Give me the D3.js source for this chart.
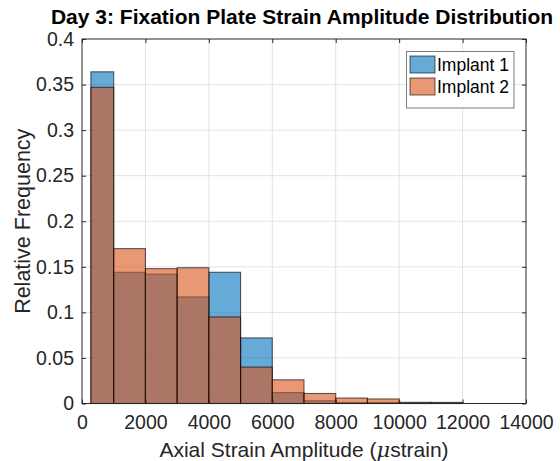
<!DOCTYPE html>
<html><head><meta charset="utf-8">
<script src="https://cdn.jsdelivr.net/npm/d3@7"></script>
<style>body{margin:0;background:#fff;} svg{display:block;font-family:"Liberation Sans",Arial,sans-serif;}</style>
</head><body>
<svg id="c" width="560" height="461"></svg>
<script>
const binEdges = [280, 1000, 2000, 3000, 4000, 5000, 6000, 7000, 8000, 9000, 10000, 11000, 12000];
const implant1 = [0.364, 0.144, 0.142, 0.117, 0.144, 0.072, 0.012, 0.003, 0.001, 0.001, 0.0005, 0.0005];
const implant2 = [0.347, 0.170, 0.148, 0.149, 0.095, 0.040, 0.026, 0.011, 0.006, 0.005, 0.0013, 0.0012];
const seriesNames = ["Implant 1", "Implant 2"];
const xTicks = [0, 2000, 4000, 6000, 8000, 10000, 12000, 14000];
const yTicks = [0, 0.05, 0.1, 0.15, 0.2, 0.25, 0.3, 0.35, 0.4];

const colors = ["rgb(0,114,189)", "rgb(217,83,25)"];
const svg = d3.select("#c");
const L = 82, R = 526, T = 39, B = 403.5;
const x = d3.scaleLinear().domain([0, 14000]).range([L, R]);
const y = d3.scaleLinear().domain([0, 0.4]).range([B, T]);
const ink = "#262626";

// grid
const g = svg.append("g");
g.selectAll(".gx").data(xTicks.slice(1, -1)).join("line")
  .attr("x1", d => x(d)).attr("x2", d => x(d)).attr("y1", T).attr("y2", B)
  .attr("stroke", "#e3e3e3").attr("stroke-width", 1);
g.selectAll(".gy").data(yTicks.slice(1, -1)).join("line")
  .attr("y1", d => y(d)).attr("y2", d => y(d)).attr("x1", L).attr("x2", R)
  .attr("stroke", "#e3e3e3").attr("stroke-width", 1);

// bars
[implant1, implant2].forEach((vals, si) => {
  svg.append("g").selectAll("rect").data(vals).join("rect")
    .attr("x", (d, i) => x(binEdges[i]))
    .attr("width", (d, i) => x(binEdges[i + 1]) - x(binEdges[i]))
    .attr("y", d => y(d))
    .attr("height", d => B - y(d))
    .attr("fill", colors[si]).attr("fill-opacity", 0.6)
    .attr("stroke", "#000").attr("stroke-opacity", 0.6).attr("stroke-width", 1.1);
});

// axes box
svg.append("rect").attr("x", L).attr("y", T).attr("width", R - L).attr("height", B - T)
  .attr("fill", "none").attr("stroke", ink).attr("stroke-width", 1);

const xAxisB = d3.axisBottom(x).tickValues(xTicks).tickSizeInner(-4).tickSizeOuter(0).tickPadding(12).tickFormat(d3.format("d"));
const xAxisT = d3.axisTop(x).tickValues(xTicks).tickSizeInner(-4).tickSizeOuter(0).tickFormat("");
const yAxisL = d3.axisLeft(y).tickValues(yTicks).tickSizeInner(-4).tickSizeOuter(0).tickPadding(8).tickFormat(d => d === 0 ? "0" : String(+d.toFixed(2)));
const yAxisR = d3.axisRight(y).tickValues(yTicks).tickSizeInner(-4).tickSizeOuter(0).tickFormat("");

function style(sel) {
  sel.select(".domain").remove();
  sel.selectAll("line").attr("stroke", ink);
  sel.selectAll("text").attr("fill", ink).style("font-size", "19.5px").style("font-family", "Liberation Sans, Arial, sans-serif");
}
svg.append("g").attr("transform", `translate(0,${B})`).call(xAxisB).call(style);
svg.append("g").attr("transform", `translate(0,${T})`).call(xAxisT).call(style);
svg.append("g").attr("transform", `translate(${L},0)`).call(yAxisL).call(style);
svg.append("g").attr("transform", `translate(${R},0)`).call(yAxisR).call(style);

// title
svg.append("text").attr("x", (L + R) / 2 - 2).attr("y", 24).attr("text-anchor", "middle")
  .style("font-weight", "bold").style("font-size", "21px").attr("fill", "#000")
  .text("Day 3: Fixation Plate Strain Amplitude Distribution");

// x label
const xl = svg.append("text").attr("x", (L + R) / 2).attr("y", 457).attr("text-anchor", "middle")
  .style("font-size", "21px").attr("fill", ink);
xl.append("tspan").text("Axial Strain Amplitude (");
xl.append("tspan").style("font-style", "italic").style("font-family", "DejaVu Serif, serif").text("μ");
xl.append("tspan").text("strain)");

// y label
svg.append("text").attr("transform", `translate(30,${(T + B) / 2}) rotate(-90)`).attr("text-anchor", "middle")
  .style("font-size", "21.5px").attr("fill", ink).text("Relative Frequency");

// legend
const lg = svg.append("g");
lg.append("rect").attr("x", 406.5).attr("y", 51.5).attr("width", 107.5).attr("height", 56.5)
  .attr("fill", "#fff").attr("stroke", ink).attr("stroke-opacity", 0.6).attr("stroke-width", 1);
seriesNames.forEach((n, i) => {
  const yy = 56 + i * 22;
  lg.append("rect").attr("x", 410).attr("y", yy).attr("width", 25).attr("height", 17)
    .attr("fill", colors[i]).attr("fill-opacity", 0.6).attr("stroke", "#000").attr("stroke-opacity", 0.6);
  lg.append("text").attr("x", 437).attr("y", yy + 15).style("font-size", "17.5px").attr("fill", "#000").text(n);
});
</script>
</body></html>
